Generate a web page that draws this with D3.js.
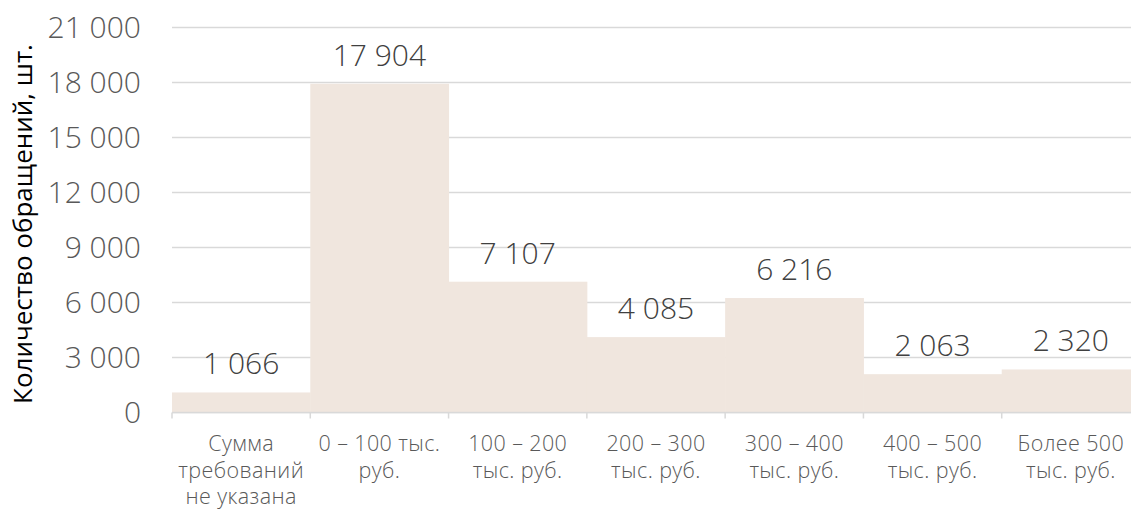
<!DOCTYPE html>
<html>
<head>
<meta charset="utf-8">
<script src="https://cdn.jsdelivr.net/npm/d3@7"></script>
<style>
  body { margin: 0; background: #fff; }
  svg text { font-family: "Open Sans", sans-serif; }
</style>
</head>
<body>
<div id="canvas"></div>
<script>
// data
const categories = [
  ["Сумма", "требований", "не указана"],
  ["0 – 100 тыс.", "руб."],
  ["100 – 200", "тыс. руб."],
  ["200 – 300", "тыс. руб."],
  ["300 – 400", "тыс. руб."],
  ["400 – 500", "тыс. руб."],
  ["Более 500", "тыс. руб."]
];
const values = [1066, 17904, 7107, 4085, 6216, 2063, 2320];
const yTicks = [0, 3000, 6000, 9000, 12000, 15000, 18000, 21000];
const yTitle = "Количество обращений, шт.";

const W = 1131, H = 510;
const ru = d3.formatLocale({decimal: ",", thousands: " ", grouping: [3], currency: ["", ""]});
const fmt = ru.format(",");

let svg = d3.select("#canvas")
  .append("svg")
    .attr("width", W)
    .attr("height", H);

let keys = categories.map((c, i) => i);
let x = d3.scaleBand().domain(keys).range([172, 1140]).padding(0);
let y = d3.scaleLinear().domain([0, 21000]).range([412, 27]);

// grid
svg.append("g")
  .selectAll("line")
  .data(yTicks)
  .enter()
  .append("line")
    .attr("x1", 172)
    .attr("x2", W)
    .attr("y1", d => y(d) + 0.5)
    .attr("y2", d => y(d) + 0.5)
    .attr("stroke", "#d9d9d9")
    .attr("stroke-width", 1.5);

// y tick labels
svg.append("g")
  .selectAll("text")
  .data(yTicks)
  .enter()
  .append("text")
    .attr("x", 141)
    .attr("y", d => y(d) + 11)
    .attr("text-anchor", "end")
    .attr("font-size", 30)
    .attr("font-weight", 300)
    .attr("fill", "#595959")
    .text(d => fmt(d));

// bars
svg.append("g")
  .selectAll("rect")
  .data(values)
  .enter()
  .append("rect")
    .attr("x", (d, i) => x(i))
    .attr("y", d => y(d))
    .attr("width", x.bandwidth() + 0.5)
    .attr("height", d => y(0) - y(d))
    .attr("fill", "#f0e6de");

// bottom axis line and separators
let gx = svg.append("g")
  .attr("transform", `translate(0,${y(0) + 0.5})`);
gx.append("line")
  .attr("x1", 172).attr("x2", W)
  .attr("stroke", "#d9d9d9").attr("stroke-width", 1.5);
gx.selectAll(".sep")
  .data(keys.concat([keys.length]))
  .enter()
  .append("line")
    .attr("class", "sep")
    .attr("x1", d => d < keys.length ? x(d) : x(keys.length - 1) + x.bandwidth())
    .attr("x2", d => d < keys.length ? x(d) : x(keys.length - 1) + x.bandwidth())
    .attr("y1", 0).attr("y2", 6)
    .attr("stroke", "#d9d9d9").attr("stroke-width", 1.5);

// category labels
let lbl = svg.append("g")
  .selectAll("text")
  .data(categories)
  .enter()
  .append("text")
    .attr("x", (d, i) => x(i) + x.bandwidth() / 2)
    .attr("y", 451)
    .attr("text-anchor", "middle")
    .attr("font-size", 21.5)
    .attr("font-weight", 300)
    .attr("letter-spacing", 0.4)
    .attr("fill", "#595959");
lbl.selectAll("tspan")
  .data(d => d)
  .enter()
  .append("tspan")
    .attr("x", function() { return this.parentNode.getAttribute("x"); })
    .attr("dy", (d, j) => j === 0 ? 0 : 26.5)
    .text(d => d);

// value labels
svg.append("g")
  .selectAll("text")
  .data(values)
  .enter()
  .append("text")
    .attr("x", (d, i) => x(i) + x.bandwidth() / 2)
    .attr("y", d => y(d) - 18)
    .attr("text-anchor", "middle")
    .attr("font-size", 30)
    .attr("font-weight", 300)
    .attr("fill", "#404040")
    .text(d => fmt(d));

// y title
svg.append("text")
  .attr("transform", "translate(32,224) rotate(-90)")
  .attr("text-anchor", "middle")
  .attr("font-size", 26)
  .attr("fill", "#000")
  .text(yTitle);
</script>
</body>
</html>
